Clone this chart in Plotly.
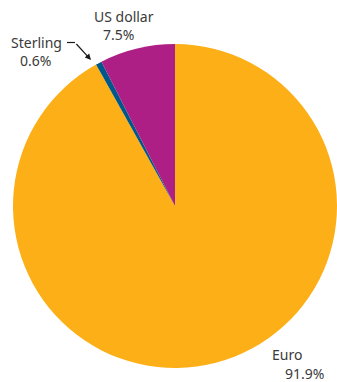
import plotly.graph_objects as go

# Currency shares (%); drawn clockwise from 12 o'clock so the US dollar
# slice ends at the top and sits just left of it
currencies = ["Euro", "Sterling", "US dollar"]
shares = [91.9, 0.6, 7.5]
colors = ["#FCAF17", "#00578A", "#AE1F85"]

W, H = 337, 382


def px(x, y):
    """Convert pixel position (from top-left) to paper coordinates."""
    return x / W, 1 - y / H


fig = go.Figure(
    go.Pie(
        labels=currencies,
        values=shares,
        sort=False,
        direction="clockwise",
        rotation=0,
        marker=dict(colors=colors, line=dict(width=0)),
        textinfo="none",
        hoverinfo="label+value",
        showlegend=False,
        domain=dict(x=[0.0386, 1.0], y=[0.0107, 0.9107]),
    )
)

font = dict(family="Noto Sans, Open Sans, sans-serif", size=14, color="#3a3a3a")

# Label text lines: (text, x_px, y_px, anchor)
label_lines = [
    ("US dollar", 124, 16, "center"),
    ("7.5%", 118, 34, "center"),
    ("Sterling", 36, 42, "center"),
    ("0.6%", 35, 60, "center"),
    ("Euro", 271, 354, "left"),
    ("91.9%", 284, 373, "left"),
]
for text, x, y, anchor in label_lines:
    xp, yp = px(x, y)
    fig.add_annotation(
        x=xp, y=yp, xref="paper", yref="paper", text=text,
        showarrow=False, font=font, xanchor=anchor, yanchor="middle",
        borderpad=0,
    )

# Leader for Sterling: short horizontal stub then an arrow to the slice
x0, y0 = px(67, 42.5)
x1, y1 = px(75, 42.5)
fig.add_shape(type="line", xref="paper", yref="paper", x0=x0, y0=y0, x1=x1, y1=y1,
              line=dict(color="#1a1a1a", width=1.2))
xt, yt = px(91, 60)
fig.add_annotation(
    x=xt, y=yt, xref="paper", yref="paper", ax=75 - 91, ay=42.5 - 60,
    axref="pixel", ayref="pixel",
    text="", showarrow=True, arrowhead=2, arrowsize=1, arrowwidth=1.2, arrowcolor="#1a1a1a",
)

fig.update_layout(
    width=W, height=H,
    margin=dict(l=0, r=0, t=0, b=0),
    paper_bgcolor="white",
    plot_bgcolor="white",
)

fig.write_html("out.html")
